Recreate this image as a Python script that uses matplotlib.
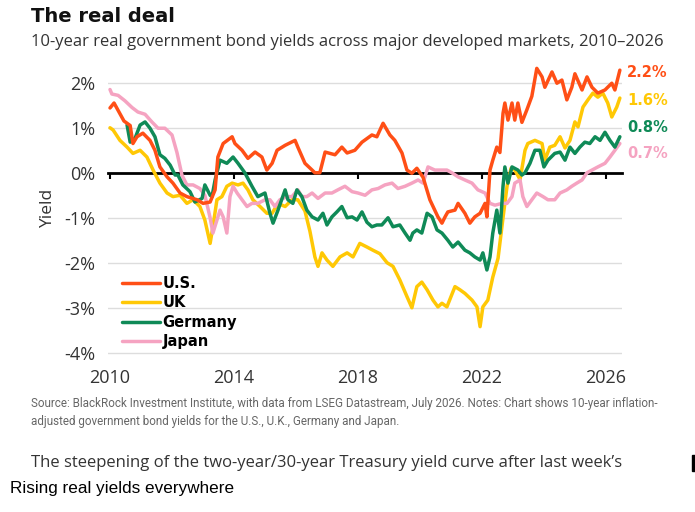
import matplotlib
matplotlib.use("Agg")
import matplotlib.pyplot as plt
from matplotlib import font_manager
from matplotlib.patches import Rectangle

# 10-year real government bond yields (%)
us_years = [2010.00, 2010.13, 2010.29, 2010.45, 2010.65, 2010.74, 2010.87, 2011.06, 2011.29, 2011.45,
            2011.61, 2011.84, 2012.03, 2012.26, 2012.48, 2012.81, 2013.00, 2013.23, 2013.39, 2013.48,
            2013.65, 2013.94, 2014.03, 2014.26, 2014.45, 2014.68, 2014.90, 2015.06, 2015.23, 2015.39,
            2015.65, 2015.97, 2016.06, 2016.29, 2016.52, 2016.61, 2016.77, 2016.94, 2017.26, 2017.48,
            2017.65, 2017.90, 2018.13, 2018.45, 2018.61, 2018.81, 2019.03, 2019.19, 2019.42, 2019.58,
            2019.74, 2019.90, 2020.10, 2020.32, 2020.58, 2020.71, 2020.81, 2020.90, 2021.13, 2021.23,
            2021.45, 2021.61, 2021.77, 2021.94, 2022.10, 2022.16, 2022.26, 2022.35, 2022.48, 2022.58,
            2022.68, 2022.74, 2022.84, 2022.97, 2023.06, 2023.16, 2023.29, 2023.45, 2023.61, 2023.77,
            2023.94, 2024.03, 2024.26, 2024.42, 2024.58, 2024.74, 2024.90, 2025.00, 2025.23, 2025.39,
            2025.55, 2025.74, 2025.97, 2026.19, 2026.29, 2026.45]
us_vals = [1.44, 1.55, 1.35, 1.15, 1.05, 0.65, 0.80, 0.88, 0.72, 0.50,
           0.13, -0.09, -0.23, -0.45, -0.53, -0.60, -0.68, -0.65, -0.38, 0.35,
           0.65, 0.80, 0.65, 0.50, 0.32, 0.46, 0.35, 0.06, 0.21, 0.50,
           0.61, 0.72, 0.57, 0.21, 0.06, 0.00, 0.00, 0.46, 0.40, 0.57,
           0.44, 0.50, 0.68, 0.84, 0.80, 1.10, 0.84, 0.72, 0.44, 0.06,
           -0.01, 0.10, -0.10, -0.60, -0.98, -1.12, -0.98, -0.87, -0.83, -0.68,
           -0.90, -1.12, -0.98, -0.90, -0.68, -0.98, 0.06, 0.28, 0.57, 0.45,
           1.32, 1.55, 1.17, 1.55, 1.17, 1.55, 1.12, 1.40, 1.70, 2.32,
           2.13, 1.90, 2.24, 1.99, 2.06, 1.62, 1.90, 2.20, 1.84, 2.13,
           1.90, 1.77, 1.84, 1.99, 1.84, 2.28]

uk_years = [2010.00, 2010.10, 2010.32, 2010.55, 2010.74, 2010.97, 2011.19, 2011.39, 2011.61, 2011.84,
            2012.03, 2012.26, 2012.48, 2012.68, 2012.90, 2013.06, 2013.23, 2013.32, 2013.45, 2013.61,
            2013.77, 2013.94, 2014.13, 2014.29, 2014.45, 2014.61, 2014.84, 2015.06, 2015.23, 2015.42,
            2015.65, 2015.87, 2016.06, 2016.29, 2016.45, 2016.61, 2016.71, 2016.84, 2017.00, 2017.19,
            2017.42, 2017.65, 2017.84, 2018.06, 2018.29, 2018.48, 2018.71, 2018.94, 2019.13, 2019.35,
            2019.58, 2019.74, 2019.90, 2020.06, 2020.23, 2020.42, 2020.58, 2020.71, 2020.87, 2021.13,
            2021.29, 2021.45, 2021.68, 2021.84, 2021.94, 2022.03, 2022.19, 2022.35, 2022.52, 2022.68,
            2022.81, 2022.94, 2023.06, 2023.23, 2023.39, 2023.48, 2023.71, 2023.94, 2024.03, 2024.19,
            2024.35, 2024.52, 2024.68, 2024.84, 2025.00, 2025.10, 2025.26, 2025.42, 2025.58, 2025.74,
            2025.90, 2026.06, 2026.19, 2026.35, 2026.45]
uk_vals = [1.00, 0.95, 0.72, 0.57, 0.43, 0.50, 0.35, 0.06, -0.23, -0.45,
           -0.53, -0.50, -0.68, -0.60, -0.75, -1.05, -1.57, -1.20, -0.60, -0.53,
           -0.30, -0.23, -0.27, -0.23, -0.38, -0.60, -0.75, -0.90, -0.90, -0.68,
           -0.75, -0.60, -0.60, -0.85, -1.30, -1.87, -2.08, -1.78, -1.94, -2.08,
           -1.87, -1.78, -1.87, -1.57, -1.65, -1.72, -1.80, -2.00, -2.08, -2.38,
           -2.75, -3.00, -2.53, -2.43, -2.60, -2.83, -2.98, -2.90, -2.98, -2.53,
           -2.60, -2.68, -2.83, -2.98, -3.42, -2.98, -2.83, -2.32, -1.90, -1.00,
           -0.30, 0.10, 0.06, -0.15, 0.50, 0.65, 0.72, 0.65, 0.28, 0.57,
           0.61, 0.80, 0.55, 0.72, 1.13, 1.02, 1.46, 1.62, 1.77, 1.68,
           1.77, 1.55, 1.24, 1.46, 1.66]

de_years = [2010.55, 2010.65, 2010.81, 2010.97, 2011.13, 2011.29, 2011.45, 2011.61, 2011.77, 2011.94,
            2012.10, 2012.19, 2012.35, 2012.58, 2012.74, 2012.97, 2013.06, 2013.23, 2013.29, 2013.39,
            2013.55, 2013.77, 2013.97, 2014.13, 2014.35, 2014.58, 2014.77, 2015.00, 2015.16, 2015.26,
            2015.42, 2015.65, 2015.74, 2015.90, 2016.03, 2016.19, 2016.35, 2016.52, 2016.71, 2016.87,
            2017.00, 2017.16, 2017.32, 2017.48, 2017.65, 2017.81, 2017.97, 2018.13, 2018.29, 2018.45,
            2018.61, 2018.77, 2018.97, 2019.13, 2019.35, 2019.52, 2019.68, 2019.77, 2019.90, 2020.06,
            2020.23, 2020.39, 2020.55, 2020.71, 2020.90, 2021.06, 2021.23, 2021.45, 2021.61, 2021.77,
            2021.94, 2022.03, 2022.16, 2022.26, 2022.35, 2022.48, 2022.58, 2022.68, 2022.74, 2022.84,
            2022.97, 2023.16, 2023.29, 2023.39, 2023.55, 2023.71, 2023.87, 2024.00, 2024.13, 2024.35,
            2024.52, 2024.68, 2024.84, 2025.00, 2025.16, 2025.32, 2025.48, 2025.65, 2025.81, 2025.97,
            2026.13, 2026.29, 2026.45]
de_vals = [1.06, 0.68, 0.77, 1.06, 1.13, 0.99, 0.80, 0.40, 0.32, 0.17,
           -0.05, -0.05, -0.27, -0.42, -0.65, -0.57, -0.27, -0.50, -0.53, -0.16,
           0.28, 0.21, 0.35, 0.21, 0.00, -0.30, -0.53, -0.45, -0.90, -1.12,
           -0.83, -0.38, -0.60, -0.68, -0.38, -0.53, -0.83, -0.98, -1.05, -0.90,
           -1.16, -0.98, -0.87, -0.75, -1.00, -0.98, -1.05, -0.87, -1.10, -1.20,
           -1.16, -1.16, -1.00, -1.20, -1.16, -1.34, -1.50, -1.34, -1.27, -1.34,
           -0.90, -0.98, -1.27, -1.34, -1.50, -1.65, -1.54, -1.72, -1.78, -1.87,
           -1.94, -1.78, -2.16, -1.87, -1.34, -0.83, -1.34, -0.30, 0.13, -0.23,
           0.13, 0.06, -0.05, 0.00, 0.21, 0.50, 0.50, 0.13, 0.28, 0.43,
           0.46, 0.28, 0.57, 0.43, 0.57, 0.68, 0.65, 0.80, 0.72, 0.90,
           0.72, 0.57, 0.80]

jp_years = [2010.00, 2010.06, 2010.26, 2010.48, 2010.71, 2010.90, 2011.13, 2011.35, 2011.55, 2011.77,
            2012.00, 2012.16, 2012.32, 2012.48, 2012.68, 2012.90, 2013.06, 2013.23, 2013.32, 2013.45,
            2013.55, 2013.65, 2013.77, 2013.87, 2013.97, 2014.10, 2014.26, 2014.42, 2014.58, 2014.77,
            2015.00, 2015.16, 2015.32, 2015.48, 2015.71, 2015.87, 2016.06, 2016.19, 2016.35, 2016.52,
            2016.71, 2016.94, 2017.16, 2017.35, 2017.58, 2017.81, 2018.00, 2018.23, 2018.45, 2018.65,
            2018.87, 2019.10, 2019.29, 2019.52, 2019.74, 2019.94, 2020.10, 2020.26, 2020.48, 2020.71,
            2020.87, 2021.03, 2021.23, 2021.45, 2021.68, 2021.87, 2022.10, 2022.26, 2022.42, 2022.65,
            2022.81, 2022.97, 2023.06, 2023.23, 2023.32, 2023.45, 2023.61, 2023.77, 2023.97, 2024.13,
            2024.35, 2024.52, 2024.74, 2024.90, 2025.06, 2025.23, 2025.39, 2025.55, 2025.74, 2025.97,
            2026.13, 2026.29, 2026.45]
jp_vals = [1.85, 1.75, 1.72, 1.60, 1.45, 1.35, 1.30, 1.13, 0.99, 0.99,
           0.84, 0.45, -0.05, -0.27, -0.27, -0.35, -0.50, -1.00, -1.34, -1.05,
           -0.83, -0.98, -1.34, -0.53, -0.30, -0.45, -0.60, -0.75, -0.68, -0.68,
           -0.60, -0.60, -0.75, -0.60, -0.53, -0.53, -0.38, -0.53, -0.53, -0.45,
           -0.57, -0.45, -0.45, -0.38, -0.30, -0.42, -0.45, -0.50, -0.38, -0.35,
           -0.27, -0.23, -0.35, -0.30, -0.23, -0.16, -0.23, 0.13, 0.06, 0.06,
           0.06, 0.00, -0.09, -0.16, -0.23, -0.38, -0.45, -0.68, -0.72, -0.68,
           -0.68, -0.53, -0.23, -0.16, -0.53, -0.75, -0.60, -0.45, -0.53, -0.60,
           -0.60, -0.45, -0.38, -0.30, -0.23, -0.16, 0.00, 0.06, 0.13, 0.21,
           0.35, 0.50, 0.65]

series_names = ["U.S.", "UK", "Germany", "Japan"]
end_labels = ["2.2%", "1.6%", "0.8%", "0.7%"]
year_ticks = [2010, 2014, 2018, 2022, 2026]
yield_ticks = [-4, -3, -2, -1, 0, 1, 2]
yield_tick_labels = ["-4%", "-3%", "-2%", "-1%", "0%", "1%", "2%"]

colors = {"U.S.": "#ff4f16", "UK": "#ffc805", "Germany": "#0f8a57", "Japan": "#f5a3c1"}
label_offsets = {"U.S.": -2, "UK": -2, "Germany": 9, "Japan": -10}

data = {
    "U.S.": (us_years, us_vals),
    "UK": (uk_years, uk_vals),
    "Germany": (de_years, de_vals),
    "Japan": (jp_years, jp_vals),
}

available = {f.name for f in font_manager.fontManager.ttflist}
if "Liberation Sans Narrow" in available:
    note_family, note_size = "Liberation Sans Narrow", 9.8
else:
    note_family, note_size = "Roboto", 8.4

fig = plt.figure(figsize=(6.95, 5.12), dpi=100)
ax = fig.add_axes([0.1554, 0.3066, 0.7396, 0.5713])

lines = {}
for name in ["UK", "Japan", "Germany", "U.S."]:
    yrs, vals = data[name]
    (ln,) = ax.plot(yrs, vals, color=colors[name], lw=2.5,
                    solid_joinstyle="round", solid_capstyle="round", label=name)
    lines[name] = ln

ax.set_xlim(2009.935, 2026.52)
ax.set_ylim(-4.05, 2.45)
ax.set_xticks(year_ticks)
ax.set_xticklabels([str(y) for y in year_ticks])
ax.set_yticks(yield_ticks)
ax.set_yticklabels(yield_tick_labels)
ax.tick_params(axis="both", length=0, labelsize=13, labelcolor="#333333")
ax.tick_params(axis="y", pad=9)
ax.tick_params(axis="x", pad=10)
for lab in ax.get_xticklabels() + ax.get_yticklabels():
    lab.set_fontfamily("Open Sans")
ax.grid(axis="y", color="#dddddd", lw=1)
ax.grid(axis="x", visible=False)
ax.set_axisbelow(True)
for sp in ax.spines.values():
    sp.set_visible(False)
ax.set_ylabel("Yield", fontsize=12.5, color="#333333", family="Open Sans", labelpad=6)

# zero line with small year ticks hanging from it
zero_ax = ax.secondary_xaxis(0, transform=ax.transData)
zero_ax.set_xticks(year_ticks)
zero_ax.tick_params(axis="x", direction="out", length=4, width=1.5, color="black",
                    labelbottom=False)
zero_ax.spines["bottom"].set_color("black")
zero_ax.spines["bottom"].set_linewidth(2)
zero_ax.set_zorder(1)

for name, text in zip(series_names, end_labels):
    yrs, vals = data[name]
    ax.annotate(text, xy=(yrs[-1], vals[-1]), xytext=(7, label_offsets[name]),
                textcoords="offset pixels", color=colors[name], fontsize=10.5,
                fontweight="bold", va="center", ha="left", annotation_clip=False)

ax.legend([lines[n] for n in series_names], series_names, loc="lower left",
          bbox_to_anchor=(0.027, 0.02), frameon=False, borderpad=0, borderaxespad=0,
          handlelength=2.6, handletextpad=0.2, labelspacing=0.3,
          prop={"weight": "bold", "size": 10.5})

fig.text(0.0446, 0.957, "The real deal", fontsize=14, fontweight="heavy",
         color="#111111", va="baseline")
fig.text(0.0446, 0.910,
         "10-year real government bond yields across major developed markets, 2010\u20132026",
         fontsize=12, family="Open Sans", color="#333333", va="baseline")

fig.text(0.0446, 0.205,
         "Source: BlackRock Investment Institute, with data from LSEG Datastream, July 2026. "
         "Notes: Chart shows 10-year inflation-",
         fontsize=note_size, family=note_family, color="#666666", va="baseline")
fig.text(0.0446, 0.170,
         "adjusted government bond yields for the U.S., U.K., Germany and Japan.",
         fontsize=note_size, family=note_family, color="#666666", va="baseline")

fig.text(0.0446, 0.088,
         "The steepening of the two-year/30-year Treasury yield curve after last week\u2019s",
         fontsize=12, family="Open Sans", color="#333333", va="baseline")
fig.patches.append(Rectangle((0.9957, 0.080), 0.0043, 0.031, transform=fig.transFigure,
                             color="black", figure=fig))
fig.text(0.0144, 0.037, "Rising real yields everywhere", fontsize=12.3,
         family="Liberation Sans", color="black", va="baseline")

fig.savefig("out.png", dpi=100)
